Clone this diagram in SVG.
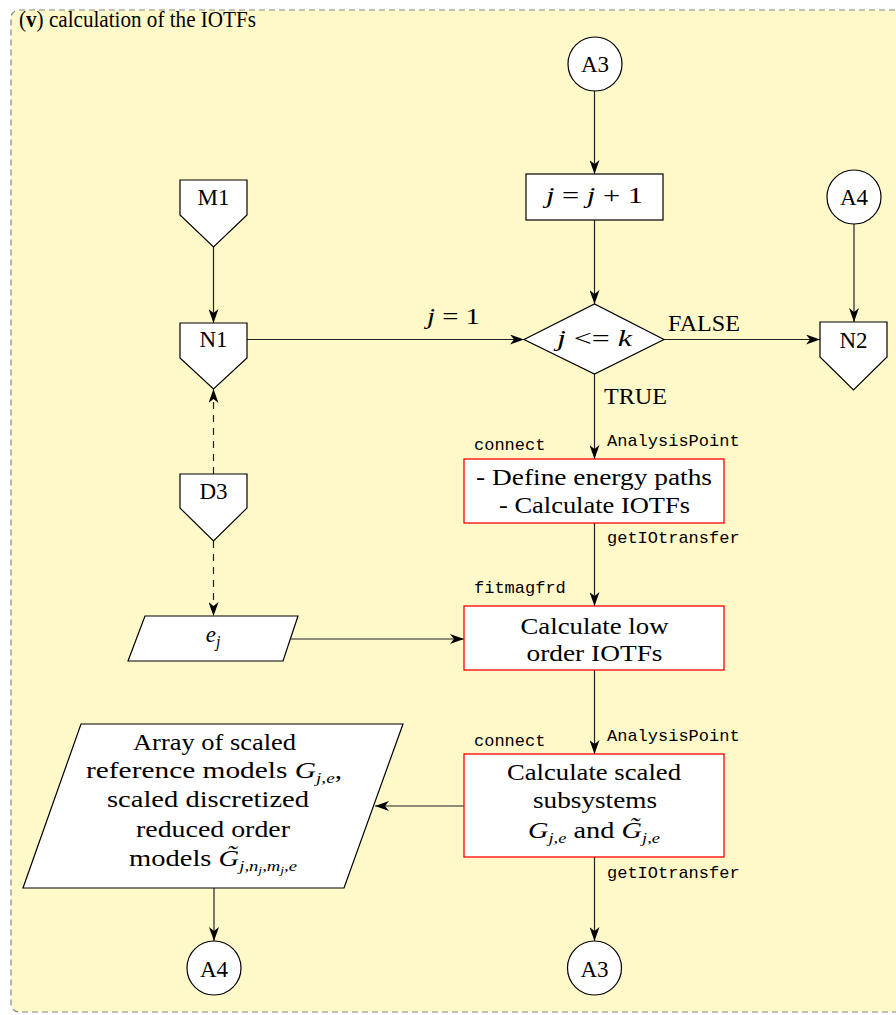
<svg xmlns="http://www.w3.org/2000/svg" width="896" height="1015" viewBox="0 0 896 1015">
<defs>
<style>
.t{font-family:"Liberation Serif",serif;font-size:23px;fill:#000}
.i{font-style:italic}
.m{font-family:"Liberation Mono",monospace;font-size:17px;fill:#000}
.sh{fill:#fff;stroke:#000;stroke-width:1.2}
.rb{fill:#fff;stroke:#f00;stroke-width:1.3}
.c{stroke:#222;stroke-width:1.2;fill:none;marker-end:url(#ah)}
.d{stroke-dasharray:7,6}
</style>
<marker id="ah" viewBox="0 0 14 10" refX="14" refY="5" markerWidth="14" markerHeight="10" markerUnits="userSpaceOnUse" orient="auto">
<path d="M0,0 L14,5 L0,10 L4,5 Z" fill="#000"/>
</marker>
</defs>
<rect x="0" y="0" width="896" height="1015" fill="#fff"/>
<rect x="11" y="10" width="900" height="1002" rx="8" fill="#FFF9CA" stroke="#888" stroke-width="1.2" stroke-dasharray="6,4"/>
<text class="t" x="19" y="27" font-size="16" textLength="237" lengthAdjust="spacingAndGlyphs">(<tspan font-weight="bold">v</tspan>) calculation of the IOTFs</text>

<g id="connectors">
<line class="c" x1="594.5" y1="91" x2="594.5" y2="174"/>
<line class="c" x1="594.5" y1="220" x2="594.5" y2="304"/>
<line class="c" x1="213.5" y1="247" x2="213.5" y2="323"/>
<line class="c" x1="247" y1="339.5" x2="524" y2="339.5"/>
<line class="c" x1="664" y1="339.5" x2="820" y2="339.5"/>
<line class="c" x1="854" y1="224" x2="854" y2="322"/>
<line class="c" x1="594.5" y1="374" x2="594.5" y2="459"/>
<line class="c" x1="594.5" y1="523" x2="594.5" y2="606"/>
<line class="c" x1="594.5" y1="670" x2="594.5" y2="754"/>
<line class="c" x1="594.5" y1="857" x2="594.5" y2="941"/>
<line class="c" x1="464" y1="806" x2="375" y2="806"/>
<line class="c" x1="214" y1="888" x2="214" y2="941"/>
<line class="c" x1="291" y1="639" x2="464" y2="639"/>
<line class="c d" x1="213.5" y1="474" x2="213.5" y2="389"/>
<line class="c d" x1="213.5" y1="541" x2="213.5" y2="616"/>
<text class="t" x="453.5" y="324" text-anchor="middle" textLength="53" lengthAdjust="spacingAndGlyphs"><tspan class="i">j</tspan> = 1</text>
<text class="t" x="668" y="331" textLength="72" lengthAdjust="spacingAndGlyphs">FALSE</text>
<text class="t" x="604" y="404" textLength="63" lengthAdjust="spacingAndGlyphs">TRUE</text>
<text class="m" x="474" y="450">connect</text>
<text class="m" x="607" y="446">AnalysisPoint</text>
<text class="m" x="607" y="543">getIOtransfer</text>
<text class="m" x="474" y="593">fitmagfrd</text>
<text class="m" x="474" y="746">connect</text>
<text class="m" x="607" y="741">AnalysisPoint</text>
<text class="m" x="607" y="878">getIOtransfer</text>
</g>

<g id="A3top">
<circle class="sh" cx="595" cy="64" r="27"/>
<text class="t" x="595" y="72" text-anchor="middle">A3</text>
</g>
<g id="inc">
<rect class="sh" x="526" y="174" width="137" height="46"/>
<text class="t" x="594.5" y="203" text-anchor="middle" textLength="97" lengthAdjust="spacingAndGlyphs"><tspan class="i">j</tspan> = <tspan class="i">j</tspan> + 1</text>
</g>
<g id="A4top">
<circle class="sh" cx="854" cy="197" r="27"/>
<text class="t" x="854" y="205" text-anchor="middle">A4</text>
</g>
<g id="M1">
<path class="sh" d="M180,180 H247 V215 L213.5,247 L180,215 Z"/>
<text class="t" x="213.5" y="205" text-anchor="middle">M1</text>
</g>
<g id="N1">
<path class="sh" d="M180,323 H247 V358 L213.5,389 L180,358 Z"/>
<text class="t" x="213.5" y="347" text-anchor="middle">N1</text>
</g>
<g id="cond">
<path class="sh" d="M524,339.5 L594.5,304 L664,339.5 L594.5,374 Z"/>
<text class="t" x="594.5" y="346" text-anchor="middle" textLength="75" lengthAdjust="spacingAndGlyphs"><tspan class="i">j</tspan> &lt;= <tspan class="i">k</tspan></text>
</g>
<g id="N2">
<path class="sh" d="M820,322 H887 V357 L853.5,390 L820,357 Z"/>
<text class="t" x="853.5" y="348" text-anchor="middle">N2</text>
</g>
<g id="D3">
<path class="sh" d="M180,474 H247 V508 L213.5,541 L180,508 Z"/>
<text class="t" x="213.5" y="499" text-anchor="middle">D3</text>
</g>
<g id="define">
<rect class="rb" x="464" y="459" width="260" height="64"/>
<text class="t" x="594" y="485" text-anchor="middle" textLength="236" lengthAdjust="spacingAndGlyphs">- Define energy paths</text>
<text class="t" x="594.5" y="513" text-anchor="middle" textLength="191" lengthAdjust="spacingAndGlyphs">- Calculate IOTFs</text>
</g>
<g id="ej">
<path class="sh" d="M145,616 H298 L283,661 H128 Z"/>
<text class="t" x="213" y="642" text-anchor="middle"><tspan class="i">e</tspan><tspan class="i" font-size="16" dy="5">j</tspan></text>
</g>
<g id="lowOrder">
<rect class="rb" x="464" y="606" width="260" height="64"/>
<text class="t" x="594.5" y="634" text-anchor="middle" textLength="148" lengthAdjust="spacingAndGlyphs">Calculate low</text>
<text class="t" x="594.5" y="661" text-anchor="middle" textLength="136" lengthAdjust="spacingAndGlyphs">order IOTFs</text>
</g>
<g id="scaled">
<rect class="rb" x="464" y="754" width="260" height="103"/>
<text class="t" x="594" y="780" text-anchor="middle" textLength="174" lengthAdjust="spacingAndGlyphs">Calculate scaled</text>
<text class="t" x="595" y="808" text-anchor="middle" textLength="124" lengthAdjust="spacingAndGlyphs">subsystems</text>
<text class="t" x="594" y="838" text-anchor="middle" textLength="132" lengthAdjust="spacingAndGlyphs"><tspan class="i">G</tspan><tspan class="i" font-size="15" dy="5">j,e</tspan><tspan dy="-5"> and </tspan><tspan class="i">G&#x303;</tspan><tspan class="i" font-size="15" dy="5">j,e</tspan></text>
</g>
<g id="array">
<path class="sh" d="M81,724 H403 L344,888 H23 Z"/>
<text class="t" x="214.5" y="750" text-anchor="middle" textLength="163" lengthAdjust="spacingAndGlyphs">Array of scaled</text>
<text class="t" x="214" y="778" text-anchor="middle" textLength="256" lengthAdjust="spacingAndGlyphs">reference models <tspan class="i">G</tspan><tspan class="i" font-size="15" dy="5">j,e</tspan><tspan dy="-5">,</tspan></text>
<text class="t" x="208" y="807" text-anchor="middle" textLength="202" lengthAdjust="spacingAndGlyphs">scaled discretized</text>
<text class="t" x="213" y="837" text-anchor="middle" textLength="154" lengthAdjust="spacingAndGlyphs">reduced order</text>
<text class="t" x="213" y="866" text-anchor="middle" textLength="168" lengthAdjust="spacingAndGlyphs">models <tspan class="i">G&#x303;</tspan><tspan class="i" font-size="15" dy="5">j,n</tspan><tspan class="i" font-size="11" dy="3">j</tspan><tspan class="i" font-size="15" dy="-3">,m</tspan><tspan class="i" font-size="11" dy="3">j</tspan><tspan class="i" font-size="15" dy="-3">,e</tspan></text>
</g>
<g id="A4bottom">
<circle class="sh" cx="214" cy="968" r="27"/>
<text class="t" x="214" y="977" text-anchor="middle">A4</text>
</g>
<g id="A3bottom">
<circle class="sh" cx="594.5" cy="968" r="27"/>
<text class="t" x="594.5" y="977" text-anchor="middle">A3</text>
</g>
</svg>
